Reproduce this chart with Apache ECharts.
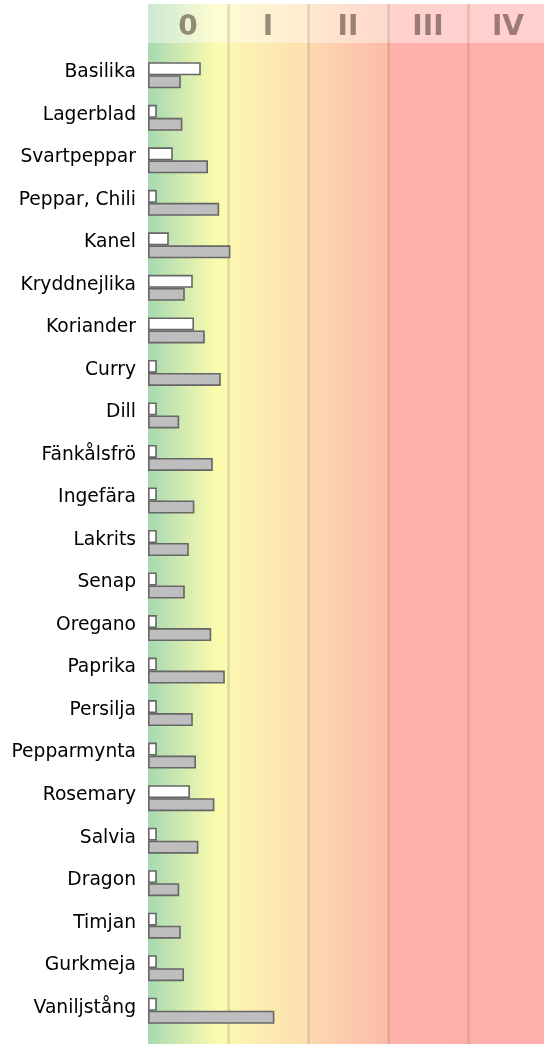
<!DOCTYPE html>
<html>
<head>
<meta charset="utf-8">
<script src="https://cdn.jsdelivr.net/npm/echarts@6/dist/echarts.min.js"></script>
<style>
  html, body { margin: 0; padding: 0; background: #fff; }
  #main { width: 544px; height: 1044px; }
</style>
</head>
<body>
<div id="main"></div>
<script>
// categories, top to bottom
var categories = ['Basilika', 'Lagerblad', 'Svartpeppar', 'Peppar, Chili', 'Kanel', 'Kryddnejlika',
  'Koriander', 'Curry', 'Dill', 'Fänkålsfrö', 'Ingefära', 'Lakrits', 'Senap', 'Oregano', 'Paprika',
  'Persilja', 'Pepparmynta', 'Rosemary', 'Salvia', 'Dragon', 'Timjan', 'Gurkmeja', 'Vaniljstång'];

// white bars (upper) and gray bars (lower), one level = 1.0
var whiteValues = [0.66, 0.11, 0.31, 0.11, 0.26, 0.56, 0.575, 0.11, 0.11, 0.11, 0.11, 0.11,
  0.11, 0.11, 0.11, 0.11, 0.11, 0.525, 0.11, 0.11, 0.11, 0.11, 0.11];
var grayValues = [0.41, 0.43, 0.75, 0.89, 1.03, 0.46, 0.71, 0.91, 0.39, 0.81, 0.58, 0.51,
  0.46, 0.79, 0.96, 0.56, 0.60, 0.83, 0.63, 0.39, 0.41, 0.45, 1.58];

// level columns in the background
var levelLabels = ['0', 'I', 'II', 'III', 'IV'];
var levelIndex = [0, 1, 2, 3, 4];
var levelColors = [
  ['#a6d9b2', '#fbfbae'],
  ['#fdf6b2', '#fde1af'],
  ['#fdd9b0', '#fdbfaa'],
  ['#ffb1ab', '#ffb0ab'],
  ['#ffafab', '#ffafab']
];

var chart = echarts.init(document.getElementById('main'));

var option = {
  animation: false,
  textStyle: { fontFamily: 'DejaVu Sans' },
  grid: [
    { left: 148, width: 400, top: 4, bottom: 0, outerBoundsMode: 'none' },
    { left: 148, width: 400, top: 54, bottom: 12, outerBoundsMode: 'none' }
  ],
  graphic: [
    {
      type: 'rect', left: 148, top: 4, z: 1,
      shape: { width: 400, height: 39 },
      style: { fill: 'rgba(255,255,255,0.42)' }
    }
  ],
  xAxis: [
    {
      type: 'value', gridIndex: 0, min: 0, max: 5, interval: 1, z: 2,
      axisLine: { show: false }, axisTick: { show: false }, axisLabel: { show: false },
      splitLine: { show: true, showMinLine: false, lineStyle: { color: 'rgba(140,120,90,0.2)', width: 3 } }
    },
    {
      type: 'category', gridIndex: 0, position: 'top', data: levelLabels, z: 3,
      axisLine: { show: false }, axisTick: { show: false }, splitLine: { show: false },
      axisLabel: {
        inside: true, margin: 10, fontSize: 28, fontWeight: 'bold',
        color: 'rgba(85,60,55,0.58)'
      }
    },
    {
      type: 'value', gridIndex: 1, min: 0, max: 5, show: false
    }
  ],
  yAxis: [
    { type: 'value', gridIndex: 0, min: 0, max: 1, show: false },
    {
      type: 'category', gridIndex: 1, inverse: true, data: categories,
      axisLine: { show: false }, axisTick: { show: false }, splitLine: { show: false },
      axisLabel: {
        fontSize: 18.7, color: '#000', margin: 12,
        verticalAlign: 'bottom', lineHeight: 6
      }
    }
  ],
  series: [
    {
      type: 'custom', xAxisIndex: 0, yAxisIndex: 0, z: 0, silent: true,
      data: levelIndex,
      renderItem: function (params, api) {
        var i = api.value(0);
        var p0 = api.coord([i, 1]);
        var p1 = api.coord([i + 1, 0]);
        return {
          type: 'rect',
          shape: { x: p0[0], y: p0[1], width: p1[0] - p0[0], height: p1[1] - p0[1] },
          style: {
            fill: new echarts.graphic.LinearGradient(0, 0, 1, 0, [
              { offset: 0, color: levelColors[i][0] },
              { offset: 0.85, color: levelColors[i][1] },
              { offset: 1, color: levelColors[i][1] }
            ])
          }
        };
      }
    },
    {
      type: 'bar', xAxisIndex: 2, yAxisIndex: 1, z: 4,
      data: whiteValues, barWidth: 13, barGap: '0%',
      itemStyle: { color: '#ffffff', borderColor: '#666666', borderWidth: 1.6 }
    },
    {
      type: 'bar', xAxisIndex: 2, yAxisIndex: 1, z: 4,
      data: grayValues, barWidth: 13, barGap: '0%',
      itemStyle: { color: '#bebebe', borderColor: '#666666', borderWidth: 1.6 }
    }
  ]
};

chart.setOption(option);
</script>
</body>
</html>
